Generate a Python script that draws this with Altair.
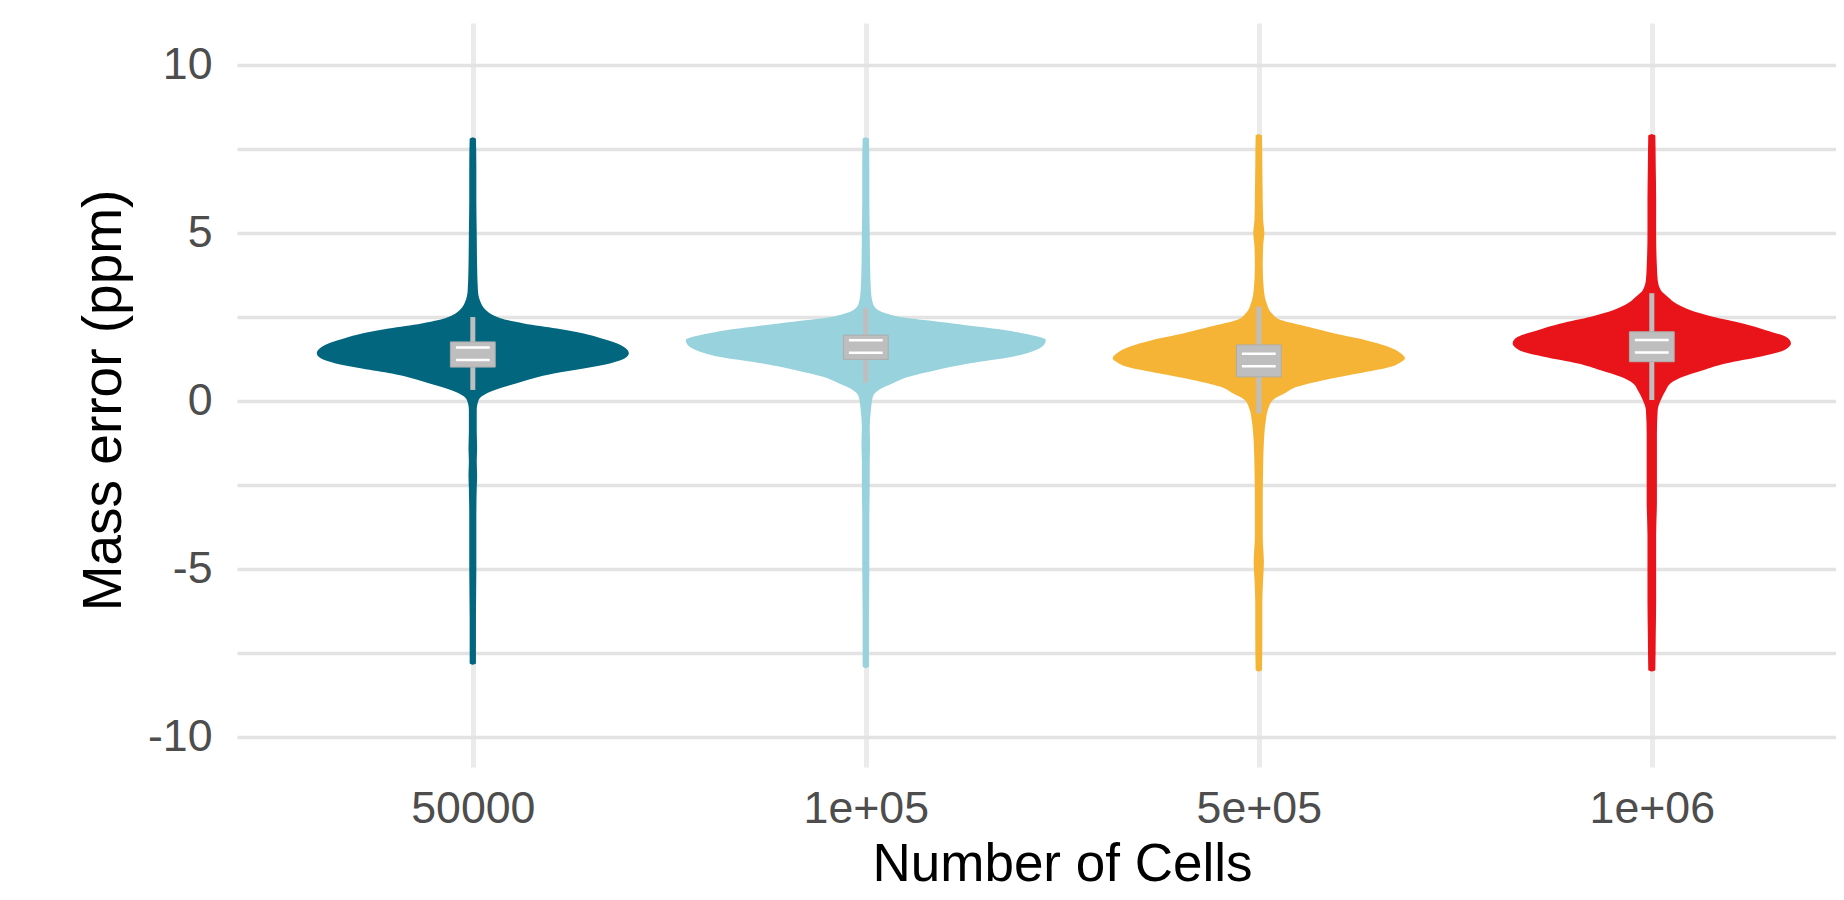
import altair as alt
import pandas as pd

# ---------------- data ----------------
categories = ["50000", "1e+05", "5e+05", "1e+06"]
colors = ["#02667F", "#98D2DD", "#F5B436", "#E8141A"]

# violin outlines: y value (ppm) and half-width (in category units)
g1_v = [-7.85, -7.8, -6.5, -5.0, -3.5, -2.6, -2.2, -1.8, -1.4, -0.9, -0.27, 0.03, 0.23, 0.38, 0.53,
        0.68, 0.82, 0.97, 1.12, 1.27, 1.42, 1.57, 1.72, 1.87, 2.01, 2.16, 2.31, 2.41, 2.56, 2.71,
        3.0, 3.3, 4.0, 5.0, 6.0, 7.0, 7.8, 7.85]
g1_w = [0, .008, .008, .009, .009, .010, .011, .010, .011, .010, .010, .015, .036, .069, .112,
        .155, .206, .282, .349, .387, .397, .389, .366, .326, .282, .214, .130, .087, .051, .033,
        .018, .013, .011, .010, .009, .009, .008, 0]
g2_v = [-7.95, -7.9, -6.5, -5.0, -3.5, -2.5, -1.8, -1.3, -0.8, -0.27, 0.13, 0.33, 0.53, 0.72, 0.92,
        1.12, 1.32, 1.52, 1.67, 1.82, 1.91, 2.01, 2.11, 2.21, 2.31, 2.41, 2.51, 2.61, 2.71, 2.91,
        3.3, 4.0, 5.0, 6.0, 7.0, 7.8, 7.85]
g2_w = [0, .008, .008, .009, .009, .010, .010, .011, .010, .013, .018, .033, .069, .109, .178,
        .262, .374, .433, .453, .458, .440, .402, .356, .288, .221, .148, .084, .051, .031, .018,
        .013, .011, .010, .009, .009, .008, 0]
g3_v = [-8.05, -8.0, -7.0, -6.0, -5.3, -4.8, -4.0, -3.0, -2.0, -1.2, -0.57, -0.27, 0.03, 0.23, 0.43,
        0.63, 0.82, 1.02, 1.12, 1.27, 1.42, 1.62, 1.82, 2.01, 2.21, 2.41, 2.61, 2.91, 3.3, 4.0,
        4.6, 5.0, 5.4, 6.0, 7.0, 7.9, 7.95]
g3_w = [0, .008, .009, .009, .011, .013, .010, .010, .011, .013, .018, .023, .036, .066, .099,
        .168, .252, .336, .356, .372, .361, .328, .270, .193, .125, .056, .033, .020, .013, .010,
        .011, .014, .011, .010, .009, .008, 0]
g4_v = [-8.05, -8.0, -7.0, -6.0, -5.0, -4.0, -3.0, -2.0, -1.0, -0.27, 0.03, 0.33, 0.53, 0.72, 0.92,
        1.12, 1.32, 1.52, 1.72, 1.91, 2.11, 2.31, 2.51, 2.71, 2.91, 3.10, 3.3, 3.6, 4.0, 5.0,
        6.0, 7.0, 7.9, 7.95]
g4_w = [0, .009, .010, .011, .011, .011, .013, .013, .013, .015, .023, .036, .048, .079, .130,
        .188, .275, .338, .354, .341, .290, .232, .155, .097, .061, .041, .023, .015, .013, .011,
        .011, .010, .009, 0]

# boxplot statistics
box_q1 = [1.01, 1.24, 0.72, 1.17]
box_q3 = [1.76, 1.96, 1.67, 2.06]
box_med = [1.41, 1.62, 1.22, 1.63]
whisk_lo = [0.33, 0.54, -0.36, 0.03]
whisk_hi = [2.50, 2.77, 2.81, 3.21]

y_grid = [-10, -7.5, -5, -2.5, 0, 2.5, 5, 7.5, 10]

# ---------------- tables ----------------
profiles = [(g1_v, g1_w), (g2_v, g2_w), (g3_v, g3_w), (g4_v, g4_w)]
rows = []
for i, (vs, ws) in enumerate(profiles):
    assert len(vs) == len(ws)
    for v, w in zip(vs, ws):
        rows.append({"cat": categories[i], "idx": i + 1, "v": v, "w": w})
violin_df = pd.DataFrame(rows)
box_df = pd.DataFrame({
    "cat": categories, "idx": [1, 2, 3, 4],
    "q1": box_q1, "q3": box_q3, "med": box_med, "lo": whisk_lo, "hi": whisk_hi,
})

# ---------------- layout ----------------
W, H = 1599, 744
FONT = "Liberation Sans"
xscale = alt.Scale(domain=[0.4, 0.4 + W / 393.0], nice=False, zero=False)
yscale = alt.Scale(domain=[-10.89, 11.25], nice=False, zero=False)

x_label_expr = " : ".join(
    "datum.value == %d ? '%s'" % (i + 1, c) for i, c in enumerate(categories)
) + " : ''"

x_axis = alt.Axis(
    values=[1, 2, 3, 4], labelExpr=x_label_expr, title="Number of Cells",
    grid=True, gridColor="#EBEBEB", gridWidth=5,
    domain=False, ticks=False, labelFlush=False,
    labelFont=FONT, labelFontSize=44.7, labelColor="#4D4D4D", labelPadding=20,
    titleFont=FONT, titleFontSize=53, titleColor="#000000", titleFontWeight="normal",
    titleX=825, titleY=113.3, titleAlign="center", titleBaseline="alphabetic",
)
y_axis = alt.Axis(
    values=y_grid,
    labelExpr="datum.value % 5 != 0 ? '' : (datum.value < 0 ? '-' + abs(datum.value) : '' + datum.value)",
    title="Mass error (ppm)",
    grid=True, gridColor="#E3E3E3", gridWidth=3.5,
    domain=False, ticks=False, labelFlush=False,
    labelFont=FONT, labelFontSize=44.7, labelColor="#4D4D4D", labelPadding=25,
    titleFont=FONT, titleFontSize=55, titleColor="#000000", titleFontWeight="normal",
    titleX=-117, titleY=377, titleAngle=270, titleAlign="center", titleBaseline="alphabetic",
)


def X(field):
    return alt.X(field, scale=xscale, axis=x_axis)


def Y(field):
    return alt.Y(field, scale=yscale, axis=y_axis)


violins = alt.Chart(violin_df).transform_calculate(
    xl="datum.idx - datum.w", xr="datum.idx + datum.w"
).mark_area(orient="horizontal", interpolate="monotone").encode(
    y=Y("v:Q"), x=X("xl:Q"), x2="xr:Q",
    color=alt.Color("cat:N", scale=alt.Scale(domain=categories, range=colors), legend=None),
    detail="cat:N",
)
whiskers = alt.Chart(box_df).mark_rule(color="#BEBEBE", strokeWidth=5).encode(
    x=X("idx:Q"), y=Y("lo:Q"), y2="hi:Q",
)
boxes = alt.Chart(box_df).transform_calculate(
    xl="datum.idx - 0.057", xr="datum.idx + 0.057"
).mark_rect(fill="#BEBEBE", stroke="#ADADAD", strokeWidth=1).encode(
    x=X("xl:Q"), x2="xr:Q", y=Y("q1:Q"), y2="q3:Q",
)
med_white = alt.Chart(box_df).transform_calculate(
    xl="datum.idx - 0.043", xr="datum.idx + 0.043"
).mark_rule(color="#FFFFFF", strokeWidth=15).encode(
    x=X("xl:Q"), x2="xr:Q", y=Y("med:Q"),
)
med_gray = alt.Chart(box_df).transform_calculate(
    xl="datum.idx - 0.045", xr="datum.idx + 0.045"
).mark_rule(color="#BEBEBE", strokeWidth=10).encode(
    x=X("xl:Q"), x2="xr:Q", y=Y("med:Q"),
)

chart = alt.layer(violins, whiskers, boxes, med_white, med_gray).properties(
    width=W, height=H,
    autosize=alt.AutoSizeParams(type="none"),
    padding={"left": 229, "top": 15, "right": 0, "bottom": 125},
    background="#FFFFFF",
).configure_view(stroke=None)

chart.save("out.html", embed_options={"renderer": "svg", "actions": False})
